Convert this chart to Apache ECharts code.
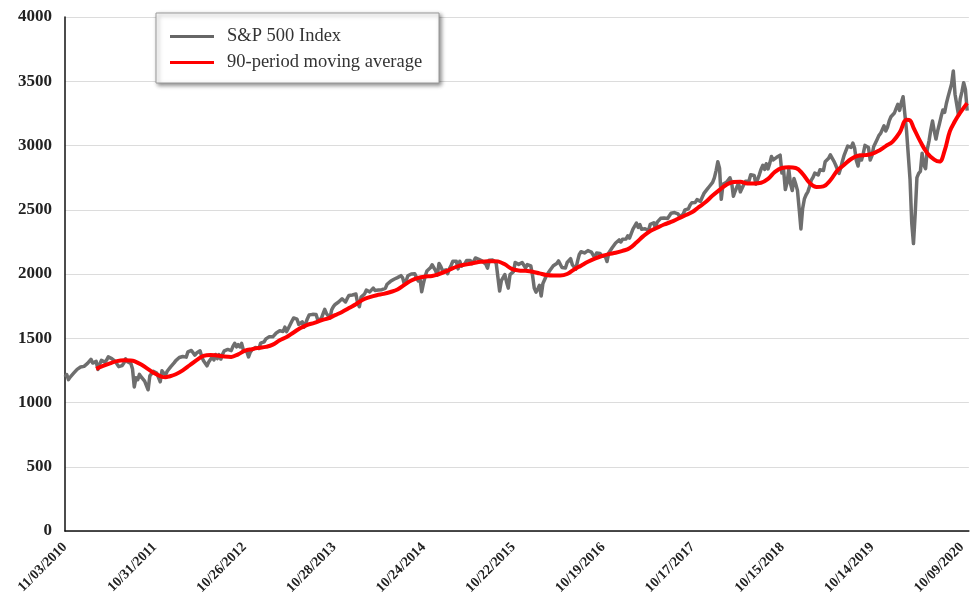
<!DOCTYPE html>
<html>
<head>
<meta charset="utf-8">
<script src="https://cdn.jsdelivr.net/npm/echarts@6/dist/echarts.min.js"></script>
<style>html,body{margin:0;padding:0;background:#fff;}#c{width:971px;height:603px;}</style>
</head>
<body>
<div id="c"></div>
<script>
// Weekly S&P 500 closes (one value per week, starting 11/03/2010)
const sp2010 = [1198,1218,1178,1198,1206,1228,1236,1258,1259];
const sp2011 = [1276,1285,1281,1296, 1304,1320,1336,1307, 1308,1320,1257,1298,1328, 1335,1314,1330,1355,
  1347,1342,1340,1320, 1315,1279,1266,1287,1307, 1339,1318,1326,1305, 1260,1121,1193,1177,1219,
  1199,1189,1166,1152, 1099,1207,1210,1242, 1237,1229,1236,1161,1247, 1261,1212,1243,1249];
const sp2012 = [1277,1292,1308,1326, 1324,1350,1343,1358,1366, 1353,1394,1402,1405, 1399,1369,1385,1390,
  1402,1355,1324,1318,1285, 1315,1314,1355,1331, 1374,1341,1373,1338, 1375,1402,1405,1413,1410,
  1404,1437,1461,1433, 1450,1432,1460,1409,1412, 1395,1355,1392,1409, 1409,1428,1436,1420];
const sp2013 = [1462,1461,1472,1495,1502, 1512,1520,1511,1516, 1541,1554,1558,1563, 1553,1587,1552,1578,
  1582,1632,1658,1655,1648, 1608,1612,1628,1585, 1615,1652,1681,1685,1686, 1690,1685,1642,1635,
  1653,1690,1725,1693, 1694,1656,1721,1746,1763, 1770,1782,1782,1807, 1792,1782,1810,1833];
const sp2014 = [1848,1837,1848,1844,1774, 1745,1820,1828,1845, 1874,1868,1861,1852, 1890,1872,1862,1875,1884,
  1878,1889,1888,1920, 1928,1943,1956,1959, 1974,1972,1981,1987,1970, 1920,1946,1986,2000,
  2000,1995,2001,1998, 1946,1968,1862,1927,1982, 2023,2038,2048,2072, 2074,2026,1990,2082,2059];
const sp2015 = [2026,2012,2032,2002, 2041,2068,2099,2113, 2099,2040,2099,2061, 2059,2081,2106,2107,2106,
  2080,2098,2125,2123, 2114,2105,2100,2108, 2077,2046,2107,2114,2108, 2100,2086,2079,1868,
  1948,1942,1996,1938,1890, 1995,1994,2018,2090, 2102,2075,2083,2089, 2079,2047,2073,2064,2063];
const sp2016 = [1990,1890,1859,1882, 1912,1829,1926,1929, 1986,1989,2027,2036,2064, 2066,2082,2102,2095,
  2051,2064,2047,2090, 2099,2119,2072,2085,2037, 2100,2152,2173,2166, 2164,2175,2182,2175,2171,
  2186,2125,2163,2171, 2160,2139,2144,2139, 2097,2163,2177,2204,2199, 2241,2253,2265,2249];
const sp2017 = [2270,2275,2272,2298, 2279,2294,2349,2362, 2396,2363,2385,2348,2361, 2352,2344,2338,2387,
  2389,2399,2357,2404,2412, 2433,2437,2436,2440, 2432,2443,2473,2477, 2478,2474,2468,2444,2457,
  2465,2498,2508,2507, 2537,2555,2561,2557, 2579,2594,2565,2597,2627, 2630,2662,2679,2682];
const sp2018 = [2713,2748,2803,2873,2824, 2581,2698,2701,2714, 2727,2749,2711,2605, 2644,2642,2708,2639,
  2636,2697,2722,2733,2724, 2772,2776,2767,2699, 2713,2774,2816,2846, 2814,2858,2818,2861,2914,
  2888,2888,2908,2906, 2925,2786,2809,2657,2712, 2814,2701,2650,2744, 2700,2651,2507,2351];
const sp2019 = [2510,2584,2617,2639,2681, 2731,2753,2785,2792, 2771,2811,2824,2805, 2873,2888,2900,2927,
  2924,2879,2850,2856,2783, 2826,2879,2926,2914, 2996,2993,2985,3019,2980, 2884,2840,2924,2887,
  2937,3001,3006,2984, 2887,2919,2990,3004,3047, 3077,3094,3108,3153, 3113,3142,3191,3224];
const sp2020 = [3231,3253,3289,3321,3273, 3334,3379,3386,3116, 3130,2741,2398,2237, 2470,2750,2783,2799,2940,
  2848,2820,2972,3036, 3122,3190,3113,3050, 3116,3169,3227,3276,3258, 3327,3380,3375,3479,
  3580,3399,3385,3237,3363, 3419,3489,3436,3271];

// 90-period moving average, read at selected weeks
const maWeek = [18,22,26,30,34,38,40,44,48,52,56,58,60,64,68,72,76,80,84,88,92,96,100,104,108,112,116,120,124,128,
  132,136,140,144,148,152,156,160,164,168,172,176,180,184,188,192,196,200,204,208,212,216,220,224,228,232,236,240,
  244,248,250,254,258,262,266,270,274,278,282,286,290,294,298,302,306,310,314,318,322,326,330,334,338,342,346,350,
  354,358,362,366,370,374,378,382,386,390,394,398,402,406,410,414,418,422,426,430,434,438,442,446,450,454,458,462,
  466,470,474,478,482,486,488,490,494,498,502,505,508,511,514,517,521];
const maValue = [1262,1285,1305,1322,1328,1327,1322,1295,1260,1225,1200,1197,1202,1220,1250,1290,1330,1362,1370,1365,
  1358,1355,1375,1403,1415,1425,1433,1450,1485,1510,1545,1580,1605,1620,1640,1655,1680,1705,1735,1765,1800,1820,
  1835,1845,1860,1880,1915,1950,1970,1980,1985,2000,2020,2045,2065,2075,2085,2095,2100,2100,2098,2075,2040,2028,
  2025,2018,2005,1992,1988,1988,2000,2035,2065,2095,2120,2140,2155,2165,2180,2200,2245,2295,2335,2360,2385,2405,
  2430,2455,2480,2520,2560,2610,2655,2695,2716,2718,2705,2705,2710,2740,2795,2825,2830,2825,2780,2710,2677,2682,
  2730,2805,2850,2895,2920,2925,2935,2960,2995,3030,3100,3200,3195,3140,3030,2940,2890,2875,2960,3110,3190,3255,3330];

const tickLabels = ['11/03/2010','10/31/2011','10/26/2012','10/28/2013','10/24/2014','10/22/2015',
  '10/19/2016','10/17/2017','10/15/2018','10/14/2019','10/09/2020'];
const yTicks = [0,500,1000,1500,2000,2500,3000,3500,4000];

const spValues = [].concat(sp2010,sp2011,sp2012,sp2013,sp2014,sp2015,sp2016,sp2017,sp2018,sp2019,sp2020);
const labelStep = 51.79; // weeks between labelled dates (250 trading days)

const chart = echarts.init(document.getElementById('c'), null, {renderer:'canvas'});
chart.setOption({
  animation:false,
  backgroundColor:'#fff',
  grid:{left:65,right:1,top:17,bottom:72,containLabel:false},
  legend:{
    orient:'vertical', left:156, top:13,
    padding:[14,12,11,14],
    itemGap:7,
    itemWidth:44, itemHeight:3,
    backgroundColor:'#fff',
    borderColor:'#9a9a9a', borderWidth:1,
    shadowColor:'rgba(0,0,0,0.45)', shadowBlur:4, shadowOffsetX:2, shadowOffsetY:2,
    textStyle:{fontFamily:'Liberation Serif', fontSize:18.5, color:'#333', padding:[0,0,0,8], width:200, lineHeight:19},
    data:[{name:'S&P 500 Index', icon:'rect', itemStyle:{color:'#666'}},
          {name:'90-period moving average', icon:'rect', itemStyle:{color:'#ff0000'}}]
  },
  xAxis:{
    type:'value', min:0, max:522, interval:labelStep,
    axisLine:{show:true, lineStyle:{color:'#111', width:1.5}},
    axisTick:{show:false},
    splitLine:{show:false},
    axisLabel:{
      rotate:45, margin:14,
      fontFamily:'Liberation Serif', fontWeight:'bold', fontSize:14, color:'#222',
      formatter:function(v){
        const r = v/labelStep; const i = Math.round(r);
        if (Math.abs(r-i) > 0.01) return '';
        return tickLabels[i] || '';
      }
    }
  },
  yAxis:{
    type:'value', min:yTicks[0], max:yTicks[yTicks.length-1], interval:yTicks[1]-yTicks[0],
    axisLine:{show:true, lineStyle:{color:'#111', width:1.5}},
    axisTick:{show:false},
    splitLine:{show:true, lineStyle:{color:'#dcdcdc', width:1}},
    axisLabel:{fontFamily:'Liberation Serif', fontWeight:'bold', fontSize:17, color:'#222', margin:13,
      formatter:function(v){ return String(v); }}
  },
  series:[
    {
      name:'S&P 500 Index', type:'line', showSymbol:false, symbol:'none',
      data: spValues.map((v,i)=>[i,v]),
      lineStyle:{color:'#6e6e6e', width:3.5, join:'round'},
      itemStyle:{color:'#666'},
      z:2
    },
    {
      name:'90-period moving average', type:'line', showSymbol:false, symbol:'none', smooth:0.4,
      data: maWeek.map((w,i)=>[w, maValue[i]]),
      lineStyle:{color:'#ff0000', width:4, join:'round'},
      itemStyle:{color:'#ff0000'},
      z:3
    }
  ]
});
</script>
</body>
</html>
